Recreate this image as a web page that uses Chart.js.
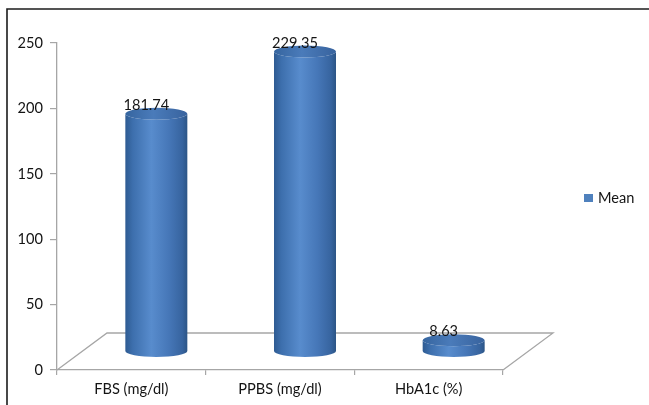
<!DOCTYPE html>
<html>
<head>
<meta charset="utf-8">
<script src="https://cdn.jsdelivr.net/npm/chart.js@4.4.0/dist/chart.umd.min.js"></script>
<style>
  html, body { margin: 0; padding: 0; background: #ffffff; }
  #wrap { position: relative; width: 649px; height: 405px; }
  canvas { display: block; }
</style>
</head>
<body>
<div id="wrap"><canvas id="chart" width="649" height="405"></canvas></div>
<script>
// Clinical parameters and their mean values
const categories = ['FBS (mg/dl)', 'PPBS (mg/dl)', 'HbA1c (%)'];
const meanValues = [181.74, 229.35, 8.63];
const seriesName = 'Mean';
const yTicks = [0, 50, 100, 150, 200, 250];

const FONT = 'Lato, "Open Sans", sans-serif';
const FONT_SIZE = 14.6;
const TEXT_COLOR = '#141414';
const DEPTH_X = 50;   // floor depth, horizontal shift
const DEPTH_Y = 37;   // floor depth, vertical shift
const RY = 6;         // cylinder cap half-height

// Outer frame (top and left edges)
const framePlugin = {
  id: 'frame',
  beforeDraw(chart) {
    const ctx = chart.ctx;
    ctx.save();
    ctx.strokeStyle = '#1c1c1c';
    ctx.lineWidth = 1.6;
    ctx.beginPath();
    ctx.moveTo(649, 9);
    ctx.lineTo(7, 9);
    ctx.lineTo(7, 405);
    ctx.stroke();
    ctx.restore();
  }
};

// 3D floor parallelogram behind the bars
const floorPlugin = {
  id: 'floor',
  beforeDatasetsDraw(chart) {
    const { ctx, chartArea: a } = chart;
    ctx.save();
    ctx.strokeStyle = '#a6a6a6';
    ctx.lineWidth = 1.3;
    ctx.beginPath();
    ctx.moveTo(a.left, a.bottom);
    ctx.lineTo(a.left + DEPTH_X, a.bottom - DEPTH_Y);
    ctx.lineTo(a.right + DEPTH_X, a.bottom - DEPTH_Y);
    ctx.lineTo(a.right, a.bottom);
    ctx.stroke();
    ctx.restore();
  }
};

// Cylinders built from the bar elements, plus value labels
const cylinderPlugin = {
  id: 'cylinders',
  afterDatasetsDraw(chart) {
    const ctx = chart.ctx;
    const meta = chart.getDatasetMeta(0);
    const dx = DEPTH_X / 2, dy = DEPTH_Y / 2;
    meta.data.forEach((bar, i) => {
      const p = bar.getProps(['x', 'y', 'base', 'width'], true);
      const cx = p.x + dx;
      const w = p.width / 2;
      const topY = p.y - dy;
      const botY = p.base - dy;

      ctx.save();
      // body
      const g = ctx.createLinearGradient(cx - w, 0, cx + w, 0);
      g.addColorStop(0, '#2e5b92');
      g.addColorStop(0.12, '#3d6fad');
      g.addColorStop(0.42, '#588ccd');
      g.addColorStop(0.7, '#4677b8');
      g.addColorStop(0.92, '#37649f');
      g.addColorStop(1, '#2c5586');
      ctx.beginPath();
      ctx.moveTo(cx - w, topY);
      ctx.lineTo(cx - w, botY);
      ctx.ellipse(cx, botY, w, RY, 0, Math.PI, 0, true);
      ctx.lineTo(cx + w, topY);
      ctx.ellipse(cx, topY, w, RY, 0, 0, Math.PI, false);
      ctx.closePath();
      ctx.fillStyle = g;
      ctx.fill();

      // top cap
      const gt = ctx.createLinearGradient(cx - w, 0, cx + w, 0);
      gt.addColorStop(0, '#36659f');
      gt.addColorStop(0.45, '#4a7bba');
      gt.addColorStop(1, '#38639e');
      ctx.beginPath();
      ctx.ellipse(cx, topY, w, RY, 0, 0, Math.PI * 2);
      ctx.fillStyle = gt;
      ctx.fill();

      // value label
      ctx.fillStyle = TEXT_COLOR;
      ctx.font = FONT_SIZE + 'px ' + FONT;
      ctx.textAlign = 'center';
      ctx.textBaseline = 'alphabetic';
      ctx.fillText(meanValues[i].toFixed(2), cx - 10, topY - RY + 2);
      ctx.restore();
    });
  }
};

// Legend on the right
const legendPlugin = {
  id: 'sideLegend',
  afterDraw(chart) {
    const ctx = chart.ctx;
    ctx.save();
    ctx.fillStyle = '#4f81bd';
    ctx.fillRect(584, 194, 9, 8);
    ctx.fillStyle = TEXT_COLOR;
    ctx.font = FONT_SIZE + 'px ' + FONT;
    ctx.textAlign = 'left';
    ctx.textBaseline = 'middle';
    ctx.fillText(chart.data.datasets[0].label, 598, 198.5);
    ctx.restore();
  }
};

new Chart(document.getElementById('chart'), {
  type: 'bar',
  data: {
    labels: categories,
    datasets: [{
      label: seriesName,
      data: meanValues,
      backgroundColor: 'rgba(0,0,0,0)',
      borderWidth: 0,
      barPercentage: 0.417,
      categoryPercentage: 1.0
    }]
  },
  options: {
    responsive: false,
    animation: false,
    events: [],
    layout: { padding: { left: 0, top: 43, right: 146, bottom: 0 } },
    plugins: {
      legend: { display: false },
      tooltip: { enabled: false },
      title: { display: false }
    },
    scales: {
      x: {
        offset: true,
        afterFit(scale) { scale.height = 35; },
        grid: {
          offset: true,
          drawOnChartArea: false,
          drawTicks: true,
          tickLength: 5,
          color: '#a6a6a6',
          lineWidth: 1.2
        },
        border: { display: true, color: '#a6a6a6', width: 1.3 },
        ticks: {
          color: TEXT_COLOR,
          font: { family: FONT, size: FONT_SIZE },
          padding: 6,
          maxRotation: 0
        }
      },
      y: {
        min: 0,
        max: 250,
        afterFit(scale) { scale.width = 57; },
        afterBuildTicks(scale) { scale.ticks = yTicks.map(v => ({ value: v })); },
        grid: {
          drawOnChartArea: false,
          drawTicks: true,
          tickLength: 7,
          color: '#a6a6a6',
          lineWidth: 1.2
        },
        border: { display: true, color: '#a6a6a6', width: 1.3 },
        ticks: {
          color: TEXT_COLOR,
          font: { family: FONT, size: FONT_SIZE },
          padding: 7
        }
      }
    }
  },
  plugins: [framePlugin, floorPlugin, cylinderPlugin, legendPlugin]
});
</script>
</body>
</html>
